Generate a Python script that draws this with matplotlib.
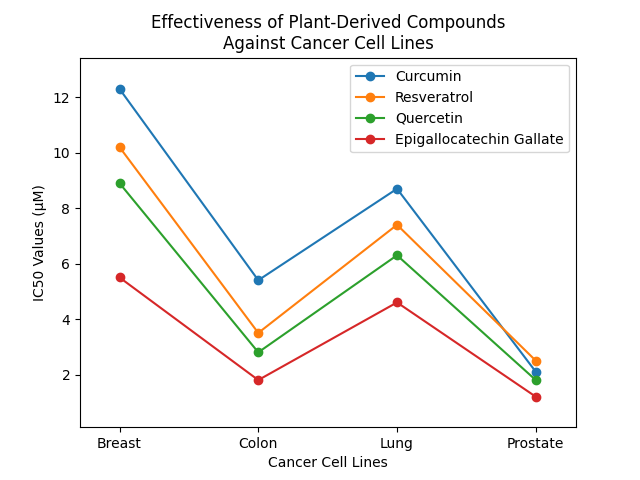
import matplotlib
matplotlib.use("Agg")
import matplotlib.pyplot as plt

# Data
cell_lines = ["Breast", "Colon", "Lung", "Prostate"]
curcumin = [12.3, 5.4, 8.7, 2.1]
resveratrol = [10.2, 3.5, 7.4, 2.5]
quercetin = [8.9, 2.8, 6.3, 1.8]
egcg = [5.5, 1.8, 4.6, 1.2]

fig, ax = plt.subplots(figsize=(6.4, 4.8), dpi=100)

ax.plot(cell_lines, curcumin, marker='o', label='Curcumin')
ax.plot(cell_lines, resveratrol, marker='o', label='Resveratrol')
ax.plot(cell_lines, quercetin, marker='o', label='Quercetin')
ax.plot(cell_lines, egcg, marker='o', label='Epigallocatechin Gallate')

ax.set_xlim(-0.285, 3.29)
ax.set_ylim(0.1, 13.43)
ax.set_title('Effectiveness of Plant-Derived Compounds\nAgainst Cancer Cell Lines')
ax.set_xlabel('Cancer Cell Lines')
ax.set_ylabel('IC50 Values (µM)')
ax.legend(loc='upper right')

fig.savefig('out.png')
